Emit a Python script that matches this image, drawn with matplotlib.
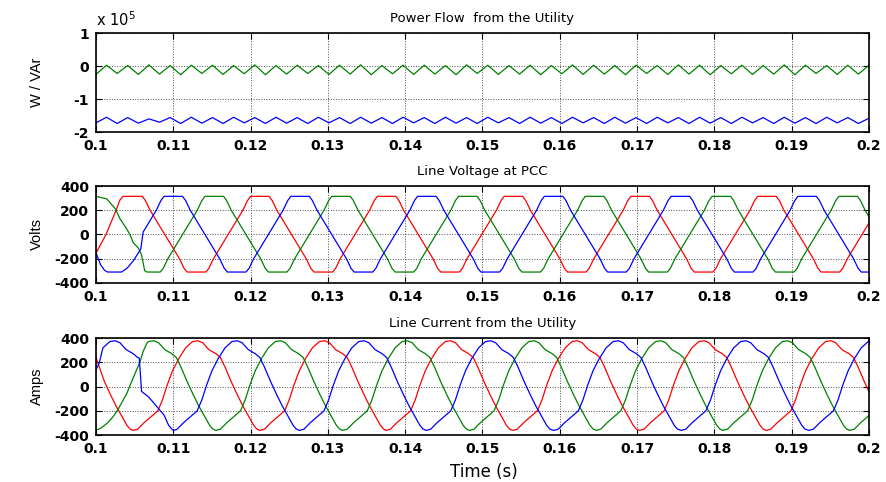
import numpy as np
import matplotlib
matplotlib.use('Agg')
import matplotlib.pyplot as plt
from matplotlib import font_manager

# ---------------- data ----------------
x_ticks = [0.10, 0.11, 0.12, 0.13, 0.14, 0.15, 0.16, 0.17, 0.18, 0.19, 0.20]
x_tick_labels = ['0.1', '0.11', '0.12', '0.13', '0.14', '0.15', '0.16', '0.17', '0.18', '0.19', '0.2']

# power flow (units of 1e5), sampled at the ripple peaks / troughs between 0.1 and 0.2 s
p_green = [-0.25, 0.03, -0.22, 0.02, -0.25, 0.04, -0.24, 0.02, -0.26, 0.03,
           -0.22, 0.03, -0.25, 0.02, -0.23, 0.04, -0.26, 0.02, -0.24, 0.03,
           -0.22, 0.02, -0.25, 0.03, -0.24, 0.04, -0.26, 0.02, -0.23, 0.03,
           -0.25, 0.03, -0.24, 0.02, -0.26, 0.04, -0.22, 0.03, -0.25, 0.02,
           -0.24, 0.03, -0.26, 0.02, -0.23, 0.04, -0.25, 0.03, -0.24, 0.02,
           -0.26, 0.03, -0.22, 0.02, -0.25, 0.04, -0.24, 0.03, -0.26, 0.02,
           -0.23, 0.03, -0.25, 0.02, -0.24, 0.04, -0.26, 0.03, -0.22, 0.02,
           -0.25, 0.03, -0.24, 0.03]
p_blue = [-1.72, -1.55, -1.74, -1.56, -1.73, -1.60, -1.70, -1.56, -1.74, -1.55,
          -1.73, -1.56, -1.74, -1.55, -1.72, -1.56, -1.74, -1.55, -1.73, -1.56,
          -1.74, -1.55, -1.72, -1.56, -1.74, -1.55, -1.73, -1.56, -1.74, -1.55,
          -1.72, -1.56, -1.74, -1.55, -1.73, -1.56, -1.74, -1.55, -1.72, -1.56,
          -1.74, -1.55, -1.73, -1.56, -1.74, -1.55, -1.72, -1.56, -1.74, -1.55,
          -1.73, -1.56, -1.74, -1.55, -1.72, -1.56, -1.74, -1.55, -1.73, -1.56,
          -1.74, -1.55, -1.72, -1.56, -1.74, -1.55, -1.73, -1.56, -1.74, -1.55,
          -1.72, -1.56, -1.74, -1.58]

# line voltage: one cycle (ms relative to the positive peak) and the peak times (ms)
v_cyc_ms = [-4.1, -2.2, -1.6, -1.2, 1.2, 1.6, 2.2, 4.1, 6.0, 6.6, 7.0, 9.4, 9.8, 10.4]
v_cyc_val = [0, 200, 280, 315, 315, 280, 200, 0, -200, -280, -310, -310, -280, -200]
v_red_pk = [104.8, 121.2, 137.6, 154.0, 170.4, 186.8, 203.2]
v_blue_pk = [110.0, 126.4, 142.8, 159.2, 175.6, 192.0]
v_green_pk = [98.9, 115.3, 131.7, 148.1, 164.5, 180.9, 197.3]
# start-up part before ~0.106 s, read point by point
v_red_head_ms = [100.0, 101.3, 102.6, 103.1, 103.5]
v_red_head = [-155, 0, 200, 285, 315]
v_blue_head_ms = [100.0, 100.6, 101.1, 101.5, 103.3, 104.0, 104.8, 105.6, 105.8, 106.1]
v_blue_head = [-150, -250, -295, -310, -310, -280, -220, -140, -120, 20]
v_green_head_ms = [100.0, 101.4, 102.5, 103.1, 103.8, 104.4, 104.8, 105.5, 105.9, 106.3, 106.6]
v_green_head = [315, 294, 212, 131, 63, 0, -65, -114, -169, -299, -310]

# line current: one cycle (ms relative to the positive peak) and the peak times (ms)
i_cyc_ms = [-8.2, -7.6, -6.8, -5.8, -5.0, -4.4, -3.8, -3.1, -2.3, -1.4, -0.5, 0.2,
            0.8, 1.6, 2.5, 3.1, 3.7, 4.5, 5.3, 6.0, 6.7, 7.4, 7.8]
i_cyc_val = [-362, -352, -300, -245, -200, -110, 10, 130, 230, 320, 372, 378,
             362, 305, 272, 240, 160, 40, -70, -160, -240, -320, -350]
i_red_pk = [96.6, 113.0, 129.4, 145.7, 162.1, 178.5, 194.9]
i_blue_pk = [102.3, 118.1, 134.5, 150.9, 167.4, 183.9, 200.4]
i_green_pk = [90.9, 107.3, 123.7, 140.1, 156.5, 172.9, 189.3, 205.7]
i_red_head_ms = [100.0, 100.5]
i_red_head = [240, 150]
i_blue_head_ms = [100.0, 100.4]
i_blue_head = [140, 190]
i_blue_step_ms = [105.6, 105.9, 106.8, 107.9, 108.8, 109.4, 109.9, 110.2]
i_blue_step = [235, -40, -85, -168, -235, -320, -358, -360]
i_green_head_ms = [100.0, 100.6, 101.5, 102.2, 102.8, 104.0, 104.8, 105.7, 106.1, 106.6]
i_green_head = [-360, -345, -300, -250, -195, -55, 70, 205, 290, 360]


def build(peaks, cyc_ms, cyc_val, patches):
    t = np.concatenate([np.array(cyc_ms) + c for c in peaks])
    v = np.tile(np.array(cyc_val, dtype=float), len(peaks))
    for pt, pv in patches:
        pt = np.array(pt, dtype=float)
        keep = (t < pt.min()) | (t > pt.max())
        t = np.concatenate([t[keep], pt])
        v = np.concatenate([v[keep], np.array(pv, dtype=float)])
    o = np.argsort(t)
    return t[o] / 1000.0, v[o]


RED, GREEN, BLUE = '#ff0000', '#008000', '#0000ff'

names = [f.name for f in font_manager.fontManager.ttflist]
label_family = 'Liberation Sans' if 'Liberation Sans' in names else 'DejaVu Sans'
plt.rcParams['font.family'] = 'DejaVu Sans'

fig = plt.figure(figsize=(8.87, 4.82), dpi=100)
ax1 = fig.add_axes([0.1082, 0.726, 0.8715, 0.205])
ax2 = fig.add_axes([0.1082, 0.413, 0.8715, 0.201])
ax3 = fig.add_axes([0.1082, 0.0975, 0.8715, 0.201])

# power flow
t_pw = np.linspace(0.1, 0.2, len(p_green))
ax1.plot(t_pw, p_green, color=GREEN, lw=0.9)
ax1.plot(t_pw, p_blue, color=BLUE, lw=0.9)
ax1.set_ylim(-2, 1)
ax1.set_yticks([-2, -1, 0, 1])
ax1.set_yticklabels(['-2', '-1', '0', '1'])
ax1.set_title('Power Flow  from the Utility', fontsize=9.5, pad=8)
ax1.set_ylabel('W / VAr', family=label_family, fontsize=10.5)
fig.text(0.108, 0.96, r'x 10$^{5}$', fontsize=10.5, ha='left', va='center')

# line voltage
for pk, head, col in [(v_red_pk, (v_red_head_ms, v_red_head), RED),
                      (v_green_pk, (v_green_head_ms, v_green_head), GREEN),
                      (v_blue_pk, (v_blue_head_ms, v_blue_head), BLUE)]:
    t, v = build(pk, v_cyc_ms, v_cyc_val, [head])
    ax2.plot(t, v, color=col, lw=0.9)
ax2.set_title('Line Voltage at PCC', fontsize=9.5, pad=8)
ax2.set_ylabel('Volts', family=label_family, fontsize=10.5)

# line current
for pk, patches, col in [(i_red_pk, [(i_red_head_ms, i_red_head)], RED),
                         (i_green_pk, [(i_green_head_ms, i_green_head)], GREEN),
                         (i_blue_pk, [(i_blue_head_ms, i_blue_head),
                                      (i_blue_step_ms, i_blue_step)], BLUE)]:
    t, v = build(pk, i_cyc_ms, i_cyc_val, patches)
    ax3.plot(t, v, color=col, lw=0.9)
ax3.set_title('Line Current from the Utility', fontsize=9.5, pad=8)
ax3.set_ylabel('Amps', family=label_family, fontsize=10.5)
fig.text(0.545, 0.021, 'Time (s)', fontsize=12, ha='center', va='center')

for ax in (ax2, ax3):
    ax.set_ylim(-400, 400)
    ax.set_yticks([-400, -200, 0, 200, 400])
    ax.set_yticklabels(['-400', '-200', '0', '200', '400'])

for ax in (ax1, ax2, ax3):
    ax.set_xlim(0.1, 0.2)
    ax.set_xticks(x_ticks)
    ax.set_xticklabels(x_tick_labels)
    ax.tick_params(direction='in', top=True, right=True, length=4, width=0.8,
                   labelsize=10, pad=5)
    for lab in ax.get_xticklabels() + ax.get_yticklabels():
        lab.set_fontweight('bold')
    ax.grid(True, linestyle=':', color='0.3', linewidth=0.7)
    ax.yaxis.set_label_coords(-0.067, 0.5)
    for s in ax.spines.values():
        s.set_linewidth(1.2)

fig.savefig('out.png', dpi=100)
